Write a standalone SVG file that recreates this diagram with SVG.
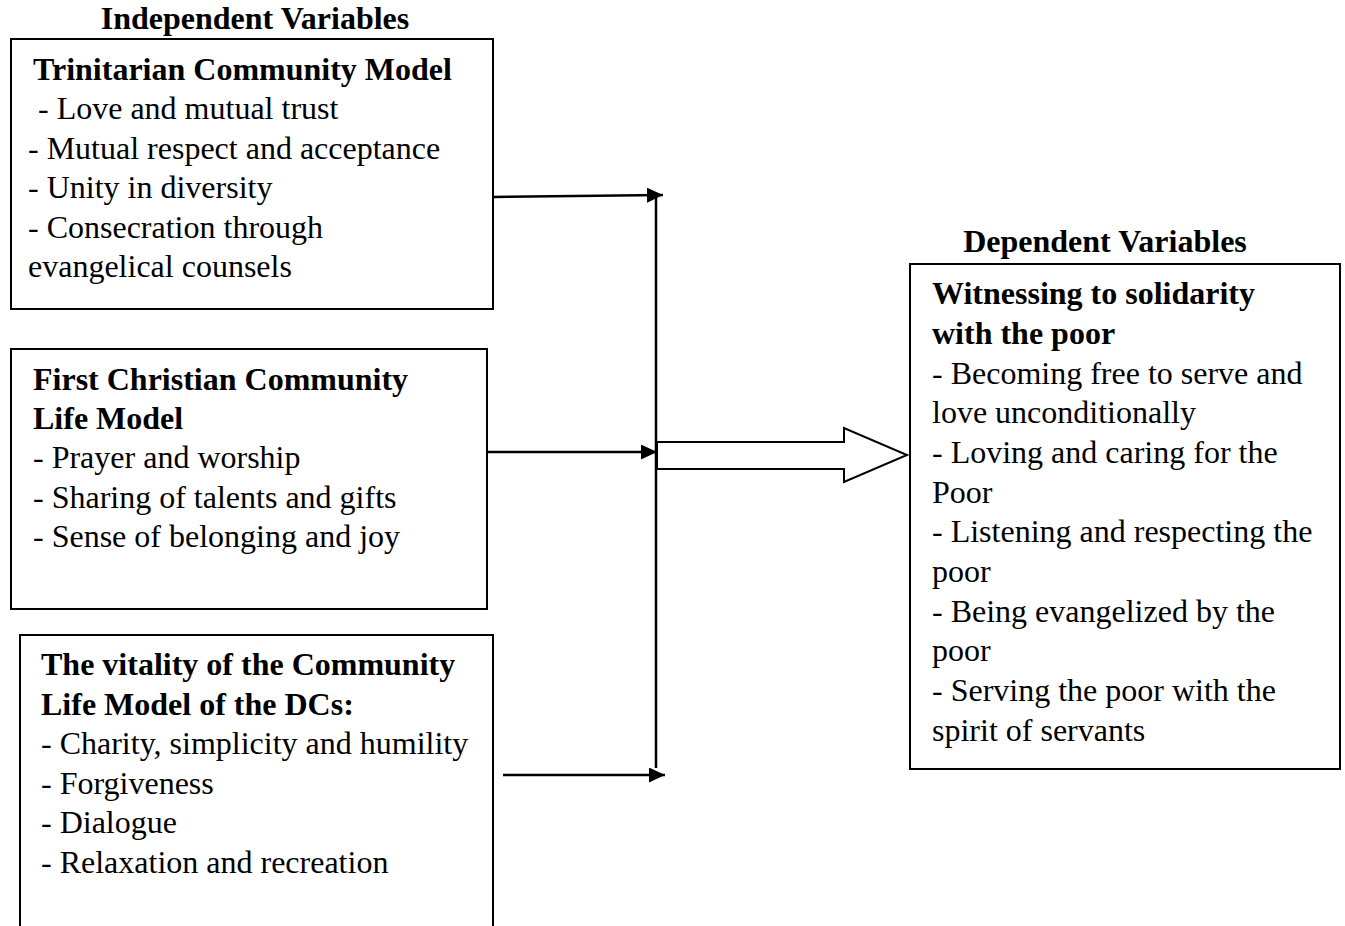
<svg xmlns="http://www.w3.org/2000/svg" width="1345" height="926" viewBox="0 0 1345 926">
<style>
.box{fill:#fff;stroke:#000;stroke-width:2}
text{font-family:"Liberation Serif","Times New Roman",serif;font-size:32px;fill:#000}
.b{font-weight:bold}
.ln{stroke:#000;stroke-width:2.5;fill:none}
</style>
<defs>
<marker id="ah" viewBox="0 0 10 10" refX="10" refY="5" markerWidth="16" markerHeight="15" markerUnits="userSpaceOnUse" orient="auto" preserveAspectRatio="none">
<path d="M0,0 L10,5 L0,10 Z" fill="#000"/>
</marker>
</defs>
<rect width="1345" height="926" fill="#fff"/>
<text class="b" x="255" y="29" text-anchor="middle">Independent Variables</text>
<text class="b" x="1105" y="252" text-anchor="middle">Dependent Variables</text>
<g id="n1">
<rect class="box" x="11" y="39" width="482" height="270"/>
<text class="b" x="33" y="80">Trinitarian Community Model</text>
<text x="30" y="119" xml:space="preserve"> - Love and mutual trust</text>
<text x="28" y="159">- Mutual respect and acceptance</text>
<text x="28" y="198">- Unity in diversity</text>
<text x="28" y="238">- Consecration through</text>
<text x="28" y="277">evangelical counsels</text>
</g>
<g id="n2">
<rect class="box" x="11" y="349" width="476" height="260"/>
<text class="b" x="33" y="390">First Christian Community</text>
<text class="b" x="33" y="429">Life Model</text>
<text x="33" y="468">- Prayer and worship</text>
<text x="33" y="508">- Sharing of talents and gifts</text>
<text x="33" y="547">- Sense of belonging and joy</text>
</g>
<g id="n3">
<rect class="box" x="20" y="635" width="473" height="300"/>
<text class="b" x="41" y="675">The vitality of the Community</text>
<text class="b" x="41" y="715">Life Model of the DCs:</text>
<text x="41" y="754">- Charity, simplicity and humility</text>
<text x="41" y="794">- Forgiveness</text>
<text x="41" y="833">- Dialogue</text>
<text x="41" y="873">- Relaxation and recreation</text>
</g>
<g id="n4">
<rect class="box" x="910" y="264" width="430" height="505"/>
<text class="b" x="932" y="304">Witnessing to solidarity</text>
<text class="b" x="932" y="344">with the poor</text>
<text x="932" y="384">- Becoming free to serve and</text>
<text x="932" y="423">love unconditionally</text>
<text x="932" y="463">- Loving and caring for the</text>
<text x="932" y="503">Poor</text>
<text x="932" y="542">- Listening and respecting the</text>
<text x="932" y="582">poor</text>
<text x="932" y="622">- Being evangelized by the</text>
<text x="932" y="661">poor</text>
<text x="932" y="701">- Serving the poor with the</text>
<text x="932" y="741">spirit of servants</text>
</g>
<g id="connectors">
<line class="ln" x1="656" y1="196" x2="656" y2="768"/>
<line class="ln" x1="493" y1="197" x2="663" y2="195" marker-end="url(#ah)"/>
<line class="ln" x1="487" y1="452" x2="657" y2="452" marker-end="url(#ah)"/>
<line class="ln" x1="503" y1="775" x2="665" y2="775" marker-end="url(#ah)"/>
<path d="M657,442 L844,442 L844,428 L907,455 L844,482 L844,469 L657,469 Z" fill="#fff" stroke="#000" stroke-width="2"/>
</g>
</svg>
